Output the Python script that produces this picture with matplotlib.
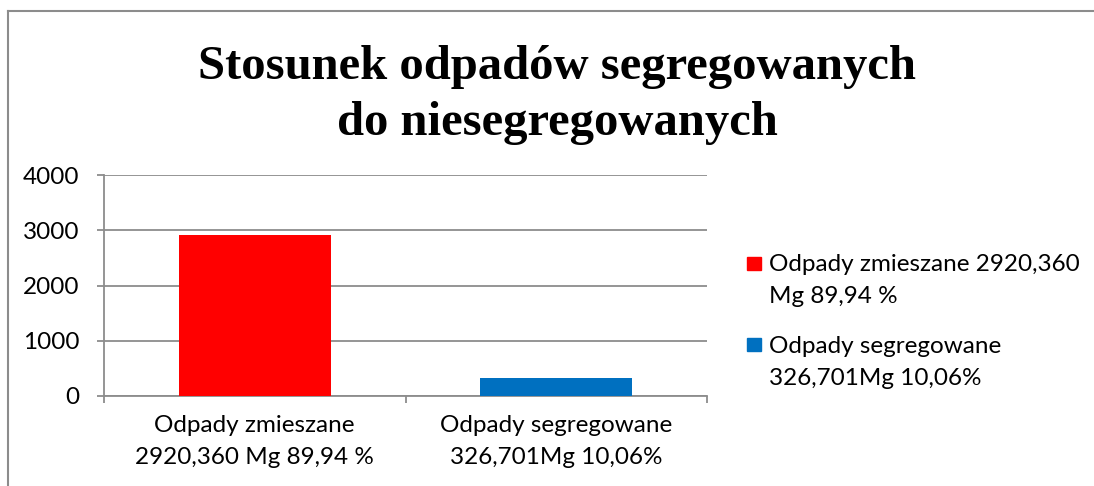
import matplotlib.pyplot as plt
from matplotlib.patches import Rectangle
from matplotlib.lines import Line2D

# data
categories = ['Odpady zmieszane\n2920,360 Mg 89,94 %', 'Odpady segregowane\n326,701Mg 10,06%']
legend_labels = ['Odpady zmieszane 2920,360\nMg 89,94 %', 'Odpady segregowane\n326,701Mg 10,06%']
values = [2920.360, 326.701]
colors = ['#FF0000', '#0070C0']
yticks = [0, 1000, 2000, 3000, 4000]
title = 'Stosunek odpadów segregowanych\ndo niesegregowanych'

W, H = 1094, 486
fig = plt.figure(figsize=(W / 100, H / 100), dpi=100)
grey = '#8c8c8c'
fs = 17.5

# outer chart frame (only top and left visible in the crop)
fig.add_artist(Line2D([8 / W, 1], [1 - 11 / H, 1 - 11 / H], color=grey, lw=1.5, transform=fig.transFigure))
fig.add_artist(Line2D([8 / W, 8 / W], [0, 1 - 11 / H], color=grey, lw=1.5, transform=fig.transFigure))

ax = fig.add_axes([104 / W, 1 - 396 / H, (707 - 104) / W, (396 - 175) / H])
x = range(len(values))
ax.bar(x, values, width=0.505, color=colors, zorder=3)

ax.set_ylim(0, 4000)
ax.set_xlim(-0.5, len(values) - 0.5)
ax.set_yticks(yticks)
ax.set_yticklabels([str(v) for v in yticks], fontsize=fs, family='Lato')
ax.yaxis.grid(True, color=grey, lw=1.3, zorder=0)
ax.set_xticks([-0.5, 0.5, 1.5])
ax.set_xticks(list(x), minor=True)
ax.set_xticklabels(['', '', ''])
ax.set_xticklabels(categories, minor=True, fontsize=fs, family='Lato', linespacing=1.6)
ax.tick_params(axis='x', which='minor', length=0, pad=14)
ax.tick_params(axis='both', which='major', length=5, width=1.3, color=grey)
ax.tick_params(axis='y', pad=12.5)
for s in ['top', 'right']:
    ax.spines[s].set_visible(False)
for s in ['left', 'bottom']:
    ax.spines[s].set_color(grey)
    ax.spines[s].set_linewidth(1.3)

fig.text(557 / W, 1 - 95 / H, title, ha='center', va='center', fontsize=35,
         fontweight='bold', family='Liberation Serif', linespacing=1.38)

# legend
text_y = [265, 347]
box_y = [263.5, 344]
for lab, col, ty, by in zip(legend_labels, colors, text_y, box_y):
    fig.add_artist(Rectangle((747 / W, 1 - (by + 6.5) / H), 14 / W, 13 / H, color=col,
                             transform=fig.transFigure))
    fig.text(769 / W, 1 - (ty - 11) / H, lab, ha='left', va='top', fontsize=fs,
             family='Lato', linespacing=1.65)

fig.savefig('out.png', dpi=100)
